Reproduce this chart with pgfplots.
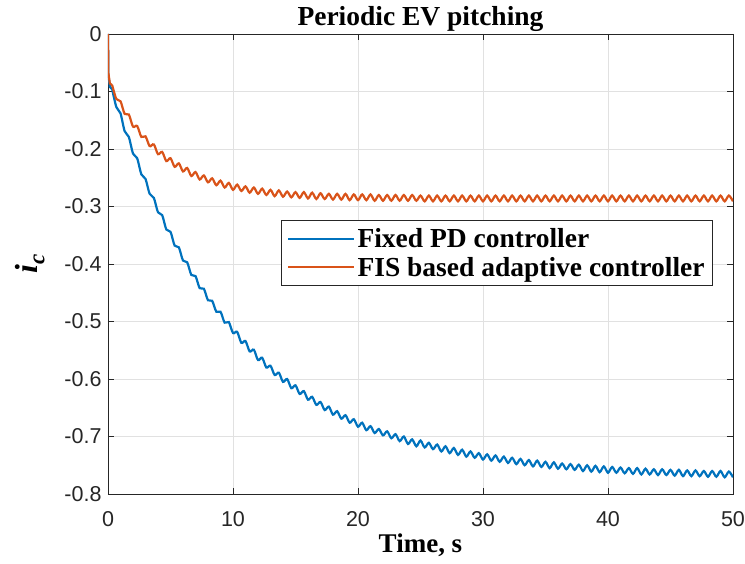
\documentclass[border=0pt]{standalone}
\usepackage{fontspec}
\setmainfont{Liberation Serif}
\newfontfamily\arialf{Liberation Sans}
\usepackage{pgfplots}
\pgfplotsset{compat=1.18}
\definecolor{mblue}{RGB}{0,114,189}
\definecolor{morange}{RGB}{217,83,25}
\definecolor{axc}{RGB}{38,38,38}
\definecolor{gridc}{RGB}{225,225,225}
\begin{document}
\begin{tikzpicture}
\path[use as bounding box] (-108pt,-69pt) rectangle (637pt,494pt);
\begin{axis}[
  at={(0pt,0pt)}, anchor=south west,
  scale only axis, width=625pt, height=460pt,
  xmin=0, xmax=50, ymin=-0.8, ymax=0,
  xtick={0,10,20,30,40,50},
  xticklabels={0,10,20,30,40,50},
  ytick={-0.8,-0.7,-0.6,-0.5,-0.4,-0.3,-0.2,-0.1,0},
  yticklabels={-0.8,-0.7,-0.6,-0.5,-0.4,-0.3,-0.2,-0.1,0},
  tick label style={font=\arialf\fontsize{21.5}{21.5}\selectfont, text=axc},
  xticklabel style={yshift=-14pt},
  yticklabel style={xshift=-3pt},
  tick align=inside,
  major tick length=6pt,
  tick style={axc, line width=0.8pt},
  axis line style={axc, line width=0.8pt},
  grid=major,
  grid style={gridc, line width=0.8pt},
  title={Periodic EV pitching},
  title style={font=\bfseries\fontsize{27.5}{27.5}\selectfont, at={(0.5,1.006)}, anchor=base},
  xlabel={Time, s},
  xlabel style={font=\bfseries\fontsize{27}{27}\selectfont, at={(0.5,-0.128)}, anchor=base},
  ylabel={\bfseries\itshape\fontsize{32}{32}\selectfont i\raisebox{-0.22em}{\fontsize{23}{23}\selectfont c}},
  ylabel style={at={(-0.125,0.5)}, anchor=center},
  legend style={at={(0.968,0.5957)}, anchor=north east, draw=axc, line width=0.8pt, fill=white,
    font=\bfseries\fontsize{27.5}{27.5}\selectfont, inner xsep=6pt, inner ysep=6pt, row sep=4pt,
    cells={anchor=west}},
  legend image code/.code={\draw[#1,line width=2.2pt] (0pt,0pt) -- (66pt,0pt);},
]
\addplot[mblue, line width=2.2pt, forget plot] coordinates {(0,0) (0.03,-0.07) (0.15,-0.092) (0.333,-0.096)};
\addplot[mblue, line width=2.2pt, smooth] coordinates {
(0.333,-0.096) (0.667,-0.127)
(1,-0.138) (1.333,-0.169) (1.667,-0.179)
(2,-0.208) (2.333,-0.216) (2.667,-0.244)
(3,-0.252) (3.333,-0.278) (3.667,-0.285)
(4,-0.310) (4.333,-0.315) (4.667,-0.340)
(5,-0.344) (5.333,-0.368) (5.667,-0.371)
(6,-0.394) (6.333,-0.397) (6.667,-0.419)
(7,-0.421) (7.333,-0.442) (7.667,-0.443)
(8,-0.463) (8.333,-0.464) (8.667,-0.483)
(9,-0.483) (9.333,-0.502) (9.667,-0.501)
(10,-0.520) (10.333,-0.518) (10.667,-0.537)
(11,-0.534) (11.333,-0.552) (11.667,-0.549)
(12,-0.567) (12.333,-0.563) (12.667,-0.580)
(13,-0.577) (13.333,-0.593) (13.667,-0.589)
(14,-0.605) (14.333,-0.600) (14.667,-0.616)
(15,-0.611) (15.333,-0.626) (15.667,-0.621)
(16,-0.636) (16.333,-0.631) (16.667,-0.645)
(17,-0.640) (17.333,-0.654) (17.667,-0.648)
(18,-0.662) (18.333,-0.656) (18.667,-0.669)
(19,-0.663) (19.333,-0.676) (19.667,-0.670)
(20,-0.683) (20.333,-0.676) (20.667,-0.689)
(21,-0.682) (21.333,-0.694) (21.667,-0.687)
(22,-0.698) (22.333,-0.691) (22.667,-0.703)
(23,-0.696) (23.333,-0.708) (23.667,-0.700)
(24,-0.713) (24.333,-0.705) (24.667,-0.717)
(25,-0.707) (25.333,-0.719) (25.667,-0.711)
(26,-0.722) (26.333,-0.714) (26.667,-0.726)
(27,-0.717) (27.333,-0.729) (27.667,-0.720)
(28,-0.732) (28.333,-0.723) (28.667,-0.735)
(29,-0.726) (29.333,-0.737) (29.667,-0.729)
(30,-0.740) (30.333,-0.731) (30.667,-0.742)
(31,-0.733) (31.333,-0.744) (31.667,-0.735)
(32,-0.746) (32.333,-0.737) (32.667,-0.748)
(33,-0.739) (33.333,-0.750) (33.667,-0.741)
(34,-0.752) (34.333,-0.742) (34.667,-0.753)
(35,-0.744) (35.333,-0.755) (35.667,-0.745)
(36,-0.756) (36.333,-0.747) (36.667,-0.757)
(37,-0.748) (37.333,-0.758) (37.667,-0.749)
(38,-0.760) (38.333,-0.750) (38.667,-0.761)
(39,-0.751) (39.333,-0.762) (39.667,-0.752)
(40,-0.763) (40.333,-0.753) (40.667,-0.763)
(41,-0.754) (41.333,-0.764) (41.667,-0.755)
(42,-0.765) (42.333,-0.755) (42.667,-0.766)
(43,-0.756) (43.333,-0.766) (43.667,-0.757)
(44,-0.767) (44.333,-0.757) (44.667,-0.767)
(45,-0.758) (45.333,-0.768) (45.667,-0.758)
(46,-0.769) (46.333,-0.759) (46.667,-0.769)
(47,-0.759) (47.333,-0.769) (47.667,-0.760)
(48,-0.770) (48.333,-0.760) (48.667,-0.770)
(49,-0.760) (49.333,-0.771) (49.667,-0.761)
(50,-0.771)
};
\addlegendentry{Fixed PD controller}
\addplot[morange, line width=2.2pt, forget plot] coordinates {(0,0) (0.03,-0.068) (0.15,-0.086) (0.333,-0.089)};
\addplot[morange, line width=2.2pt, smooth] coordinates {
(0.333,-0.089) (0.667,-0.113)
(1,-0.117) (1.333,-0.139) (1.667,-0.140)
(2,-0.161) (2.333,-0.160) (2.667,-0.179)
(3,-0.178) (3.333,-0.195) (3.667,-0.192)
(4,-0.209) (4.333,-0.205) (4.667,-0.221)
(5,-0.216) (5.333,-0.231) (5.667,-0.225)
(6,-0.239) (6.333,-0.233) (6.667,-0.247)
(7,-0.240) (7.333,-0.253) (7.667,-0.246)
(8,-0.258) (8.333,-0.251) (8.667,-0.263)
(9,-0.255) (9.333,-0.267) (9.667,-0.259)
(10,-0.271) (10.333,-0.262) (10.667,-0.273)
(11,-0.265) (11.333,-0.276) (11.667,-0.267)
(12,-0.278) (12.333,-0.269) (12.667,-0.280)
(13,-0.271) (13.333,-0.282) (13.667,-0.272)
(14,-0.283) (14.333,-0.274) (14.667,-0.284)
(15,-0.275) (15.333,-0.285) (15.667,-0.275)
(16,-0.286) (16.333,-0.276) (16.667,-0.287)
(17,-0.277) (17.333,-0.287) (17.667,-0.278)
(18,-0.288) (18.333,-0.278) (18.667,-0.288)
(19,-0.278) (19.333,-0.289) (19.667,-0.279)
(20,-0.289) (20.333,-0.279) (20.667,-0.289)
(21,-0.279) (21.333,-0.290) (21.667,-0.280)
(22,-0.290) (22.333,-0.280) (22.667,-0.290)
(23,-0.280) (23.333,-0.290) (23.667,-0.280)
(24,-0.290) (24.333,-0.280) (24.667,-0.290)
(25,-0.281) (25.333,-0.291) (25.667,-0.281)
(26,-0.291) (26.333,-0.281) (26.667,-0.291)
(27,-0.281) (27.333,-0.291) (27.667,-0.281)
(28,-0.291) (28.333,-0.281) (28.667,-0.291)
(29,-0.281) (29.333,-0.291) (29.667,-0.281)
(30,-0.291) (30.333,-0.281) (30.667,-0.291)
(31,-0.281) (31.333,-0.291) (31.667,-0.281)
(32,-0.291) (32.333,-0.281) (32.667,-0.291)
(33,-0.281) (33.333,-0.291) (33.667,-0.281)
(34,-0.291) (34.333,-0.281) (34.667,-0.291)
(35,-0.281) (35.333,-0.291) (35.667,-0.281)
(36,-0.291) (36.333,-0.281) (36.667,-0.291)
(37,-0.281) (37.333,-0.291) (37.667,-0.281)
(38,-0.291) (38.333,-0.281) (38.667,-0.291)
(39,-0.281) (39.333,-0.291) (39.667,-0.281)
(40,-0.291) (40.333,-0.281) (40.667,-0.291)
(41,-0.281) (41.333,-0.291) (41.667,-0.281)
(42,-0.291) (42.333,-0.281) (42.667,-0.291)
(43,-0.281) (43.333,-0.291) (43.667,-0.281)
(44,-0.291) (44.333,-0.281) (44.667,-0.291)
(45,-0.281) (45.333,-0.291) (45.667,-0.281)
(46,-0.291) (46.333,-0.281) (46.667,-0.291)
(47,-0.281) (47.333,-0.291) (47.667,-0.281)
(48,-0.291) (48.333,-0.281) (48.667,-0.291)
(49,-0.281) (49.333,-0.291) (49.667,-0.281)
(50,-0.291)
};
\addlegendentry{FIS based adaptive controller}
\end{axis}
\end{tikzpicture}
\end{document}
